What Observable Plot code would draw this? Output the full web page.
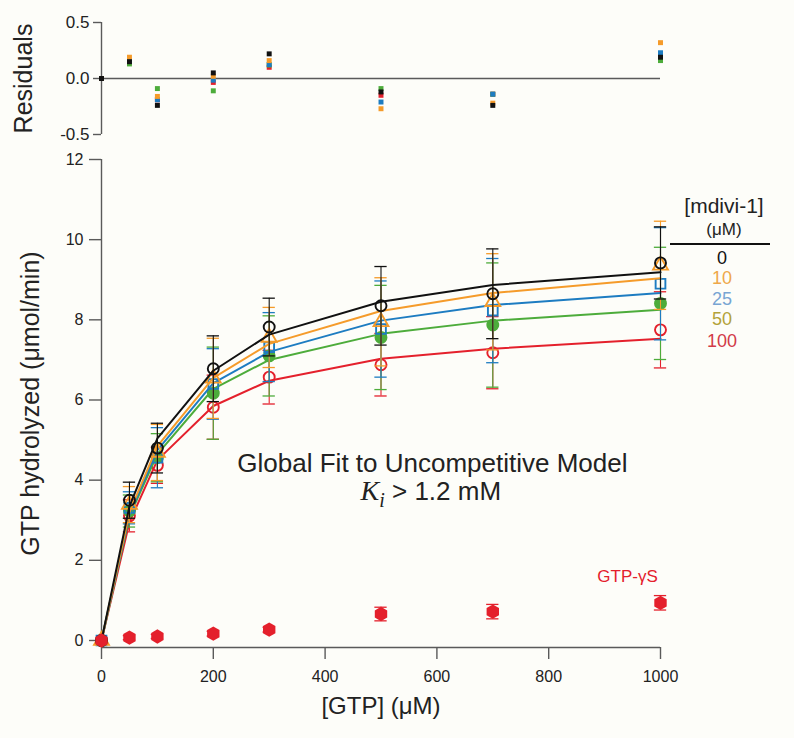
<!DOCTYPE html>
<html><head><meta charset="utf-8">
<script src="https://cdn.jsdelivr.net/npm/d3@7"></script>
<script src="https://cdn.jsdelivr.net/npm/@observablehq/plot@0.6"></script>
<style>
html,body{margin:0;padding:0;background:#fdfdf9;}
#chart{position:relative;width:794px;height:738px;font-family:"Liberation Sans",Arial,Helvetica,sans-serif;}
#chart svg{display:block;}
.lg{position:absolute;transform:translate(-50%,-50%);white-space:nowrap;line-height:1;font-family:"Liberation Sans",Arial,sans-serif;}
</style></head><body><div id="chart"></div>
<script>
// ---------- data ----------
const gtp = [0, 50, 100, 200, 300, 500, 700, 1000];
const mdivi = ["0", "10", "25", "50", "100"];
// measured rates (µmol/min)
const rate0   = [0, 3.50, 4.80, 6.78, 7.82, 8.35, 8.65, 9.42];
const rate10  = [0, 3.39, 4.69, 6.54, 7.56, 7.95, 8.45, 9.36];
const rate25  = [0, 3.31, 4.56, 6.40, 7.32, 7.77, 8.23, 8.90];
const rate50  = [0, 3.23, 4.56, 6.17, 7.10, 7.56, 7.87, 8.41];
const rate100 = [0, 3.11, 4.37, 5.82, 6.57, 6.88, 7.18, 7.75];
// error (±)
const err0   = [0, 0.45, 0.62, 0.82, 0.72, 0.98, 1.12, 0.90];
const err10  = [0, 0.45, 0.70, 1.00, 0.75, 1.10, 1.20, 1.10];
const err25  = [0, 0.40, 0.75, 0.88, 0.86, 1.20, 1.30, 1.40];
const err50  = [0, 0.40, 0.60, 1.15, 1.00, 1.30, 1.55, 1.40];
const err100 = [0, 0.40, 0.45, 0.80, 0.67, 0.78, 0.90, 0.95];
// global fit curves
const fit0   = [0, 3.35, 5.04, 6.73, 7.63, 8.45, 8.87, 9.19];
const fit10  = [0, 3.20, 4.85, 6.55, 7.40, 8.22, 8.67, 9.04];
const fit25  = [0, 3.15, 4.75, 6.42, 7.20, 7.98, 8.37, 8.67];
const fit50  = [0, 3.10, 4.65, 6.28, 7.00, 7.65, 7.98, 8.25];
const fit100 = [0, 2.95, 4.50, 5.85, 6.48, 7.03, 7.28, 7.53];
// residuals
const res0   = [0, 0.15, -0.24, 0.05, 0.22, -0.12, -0.24, 0.19];
const res10  = [0, 0.19, -0.16, 0.02, 0.16, -0.27, -0.22, 0.32];
const res25  = [0, 0.155, -0.19, -0.015, 0.125, -0.21, -0.14, 0.23];
const res50  = [0, 0.13, -0.09, -0.11, 0.12, -0.09, -0.14, 0.16];
const res100 = [0, 0.15, -0.19, -0.035, 0.10, -0.15, -0.14, 0.18];
// GTP-γS control
const gtpS    = [0, 0.07, 0.10, 0.17, 0.27, 0.66, 0.72, 0.94];
const gtpSErr = [0, 0.05, 0.05, 0.06, 0.06, 0.17, 0.18, 0.18];
// ticks
const xTicks = [0, 200, 400, 600, 800, 1000];
const yTicks = [0, 2, 4, 6, 8, 10, 12];
const resTicks = [-0.5, 0, 0.5];

// ---------- styling ----------
const FONT = '"Liberation Sans", Arial, Helvetica, sans-serif';
const style = [
  {color: "#111111", legend: "#111111", symbol: "circle",   filled: false},
  {color: "#f59b2a", legend: "#eea84a", symbol: "triangle", filled: false},
  {color: "#1d7cc1", legend: "#78a5d3", symbol: "square",   filled: false},
  {color: "#4dac3b", legend: "#b3a23a", symbol: "circle",   filled: true},
  {color: "#e4202c", legend: "#d23a48", symbol: "circle",   filled: false}
];
const gsColor = "#e4202c";
const axisColor = "#5a5a5a";

const rates = [rate0, rate10, rate25, rate50, rate100];
const errs = [err0, err10, err25, err50, err100];
const fits = [fit0, fit10, fit25, fit50, fit100];
const resids = [res0, res10, res25, res50, res100];

const seriesRows = mdivi.map((name, s) => gtp.map((x, i) => ({
  name, x, y: rates[s][i], err: errs[s][i], fit: fits[s][i], res: resids[s][i]
})));
const gsRows = gtp.map((x, i) => ({x, y: gtpS[i], err: gtpSErr[i]}));
const capHalf = 11; // µM half-width of error caps

const chart = document.getElementById("chart");

// ---------- residuals panel ----------
const resMarks = [
  Plot.ruleX([0], {y1: -0.5, y2: 0.5, stroke: axisColor, strokeWidth: 1.4}),
  Plot.ruleY([0], {x1: 0, x2: 1000, stroke: axisColor, strokeWidth: 1.4}),
  Plot.axisY(resTicks, {tickSize: 8, tickPadding: 4, tickFormat: d => d.toFixed(1), stroke: axisColor, fill: "#222", fontSize: 17, label: null, strokeWidth: 1.4})
];
for (const s of [4, 3, 2, 1, 0]) {
  resMarks.push(Plot.dot(seriesRows[s], {x: "x", y: "res", symbol: "square", r: 2.8, fill: style[s].color, stroke: null}));
}
resMarks.push(Plot.text(["Residuals"], {text: d => d, frameAnchor: "left", textAnchor: "middle", dx: -78, rotate: -90, fontSize: 25, fill: "#222"}));

const resPlot = Plot.plot({
  width: 794, height: 145,
  marginLeft: 101, marginRight: 134, marginTop: 22, marginBottom: 11,
  x: {domain: [0, 1000], axis: null},
  y: {domain: [-0.5, 0.5], axis: null},
  style: {background: "transparent", fontFamily: FONT, fontSize: "16px", overflow: "visible"},
  marks: resMarks
});
chart.appendChild(resPlot);

// ---------- main panel ----------
const yMin = -0.175;
const mainMarks = [
  Plot.ruleX([0], {stroke: axisColor, strokeWidth: 1.4}),
  Plot.ruleY([yMin], {stroke: axisColor, strokeWidth: 1.4}),
  Plot.axisY(yTicks, {tickSize: 12, tickPadding: 6, tickFormat: d => String(d), stroke: axisColor, fill: "#222", fontSize: 16, label: null, strokeWidth: 1.4}),
  Plot.axisX(xTicks, {tickSize: 12, tickPadding: 11, tickFormat: d => String(d), stroke: axisColor, fill: "#222", fontSize: 16, label: null, strokeWidth: 1.4})
];
for (const s of [4, 3, 2, 1, 0]) {
  const rows = seriesRows[s];
  const st = style[s];
  const withErr = rows.filter(d => d.err > 0);
  mainMarks.push(
    Plot.ruleX(withErr, {x: "x", y1: d => d.y - d.err, y2: d => d.y + d.err, stroke: st.color, strokeWidth: 1.1}),
    Plot.ruleY(withErr, {y: d => d.y - d.err, x1: d => d.x - capHalf, x2: d => d.x + capHalf, stroke: st.color, strokeWidth: 1.3}),
    Plot.ruleY(withErr, {y: d => d.y + d.err, x1: d => d.x - capHalf, x2: d => d.x + capHalf, stroke: st.color, strokeWidth: 1.3}),
    Plot.line(rows, {x: "x", y: "fit", stroke: st.color, strokeWidth: 2}),
    Plot.dot(rows, {x: "x", y: "y", symbol: st.symbol, r: 5.5,
      stroke: st.color, strokeWidth: 1.9, fill: st.filled ? st.color : "none"})
  );
}
const gsErr = gsRows.filter(d => d.err > 0);
mainMarks.push(
  Plot.ruleX(gsErr, {x: "x", y1: d => d.y - d.err, y2: d => d.y + d.err, stroke: gsColor, strokeWidth: 1.1}),
  Plot.ruleY(gsErr, {y: d => d.y - d.err, x1: d => d.x - capHalf, x2: d => d.x + capHalf, stroke: gsColor, strokeWidth: 1.3}),
  Plot.ruleY(gsErr, {y: d => d.y + d.err, x1: d => d.x - capHalf, x2: d => d.x + capHalf, stroke: gsColor, strokeWidth: 1.3}),
  Plot.dot(gsRows, {x: "x", y: "y", symbol: "hexagon", r: 6.2, fill: gsColor, stroke: null})
);
// annotations (data-space anchors)
const notes = [
  {x: 592, y: 4.42, text: "Global Fit to Uncompetitive Model", size: 26, color: "#222"},
  {x: 941, y: 1.60, text: "GTP-γS", size: 17, color: gsColor}
];
mainMarks.push(Plot.text(notes, {x: "x", y: "y", text: "text", fontSize: d => d.size, fill: d => d.color}));
// axis titles
mainMarks.push(
  Plot.text(["[GTP] (μM)"], {text: d => d, frameAnchor: "bottom", dy: 66, fontSize: 24, fill: "#222"}),
  Plot.text(["GTP hydrolyzed (μmol/min)"], {text: d => d, frameAnchor: "left", textAnchor: "middle", dx: -71, rotate: -90, fontSize: 25, fill: "#222"})
);

const mainPlot = Plot.plot({
  width: 794, height: 593,
  marginLeft: 101, marginRight: 134, marginTop: 14, marginBottom: 91,
  x: {domain: [0, 1000], axis: null},
  y: {domain: [yMin, 12], axis: null},
  style: {background: "transparent", fontFamily: FONT, fontSize: "16px", overflow: "visible"},
  marks: mainMarks
});
chart.appendChild(mainPlot);

// K_i annotation with italic/subscript via tspans
const sx = mainPlot.scale("x"), sy = mainPlot.scale("y");
const ki = {x: 590, y: 3.49};
const t = d3.select(mainPlot).append("text")
  .attr("x", sx.apply(ki.x)).attr("y", sy.apply(ki.y))
  .attr("text-anchor", "middle").attr("font-size", 26).attr("fill", "#222")
  .attr("font-family", FONT);
t.append("tspan").attr("font-family", '"Liberation Serif", "Times New Roman", serif').attr("font-style", "italic").attr("font-size", 28).text("K");
t.append("tspan").attr("font-family", '"Liberation Serif", "Times New Roman", serif').attr("font-style", "italic").attr("font-size", 20).attr("dy", 7).text("i");
t.append("tspan").attr("dy", -7).text(" > 1.2 mM");

// ---------- legend ----------
function lg(text, x, y, size, color) {
  const d = document.createElement("div");
  d.className = "lg";
  d.textContent = text;
  d.style.left = x + "px"; d.style.top = y + "px";
  d.style.fontSize = size + "px"; d.style.color = color;
  chart.appendChild(d);
}
lg("[mdivi-1]", 724, 205, 21, "#222");
lg("(μM)", 724, 229, 17, "#222");
const bar = document.createElement("div");
bar.style.cssText = "position:absolute;left:670px;top:243px;width:100px;height:2px;background:#111;";
chart.appendChild(bar);
const legendY = [258, 278, 299, 319, 341];
mdivi.forEach((m, i) => lg(m, 722, legendY[i], 18, style[i].legend));
</script></body></html>
